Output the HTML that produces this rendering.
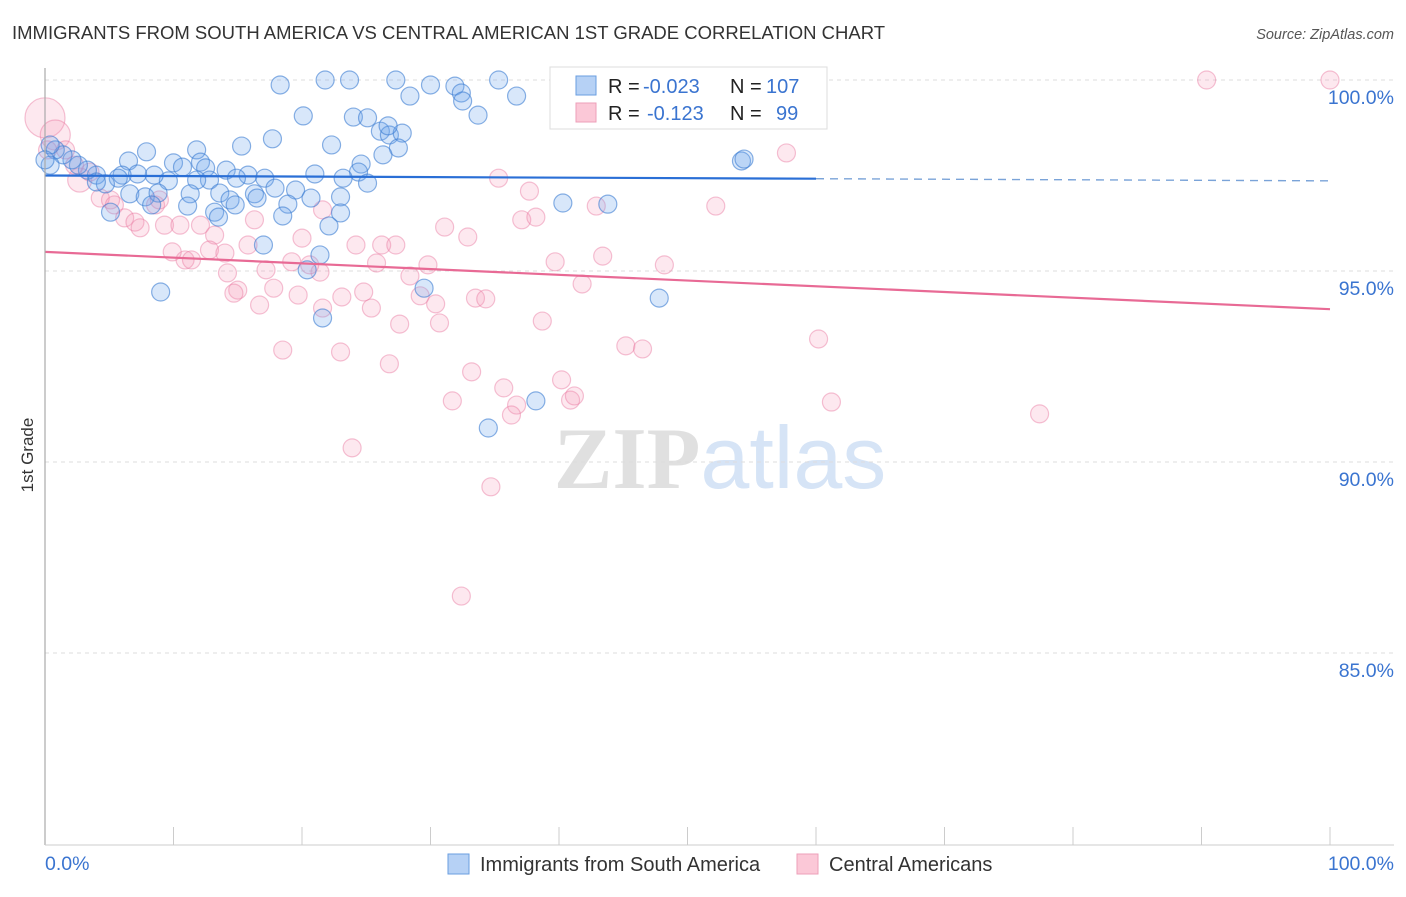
<!DOCTYPE html>
<html><head><meta charset="utf-8"><style>
body{margin:0;background:#fff;font-family:"Liberation Sans",sans-serif}
</style></head><body>
<svg width="1406" height="892" xmlns="http://www.w3.org/2000/svg" id="svg" style="font-family:'Liberation Sans',sans-serif">
<text x="12" y="39" font-size="18.5" fill="#333">IMMIGRANTS FROM SOUTH AMERICA VS CENTRAL AMERICAN 1ST GRADE CORRELATION CHART</text>
<text x="1394" y="39" font-size="14.5" fill="#555" font-style="italic" text-anchor="end">Source: ZipAtlas.com</text>
<text x="720" y="488" font-size="88" text-anchor="middle" font-family="Liberation Serif" font-weight="bold"><tspan fill="#e0e0e0">ZIP</tspan><tspan fill="#d6e4f6" font-family="Liberation Sans" font-weight="normal">atlas</tspan></text>
<g id="grid"></g><g id="marks"></g>
<line x1="45" y1="68" x2="45" y2="845" stroke="#aaa" stroke-width="1.2"/>
<line x1="45" y1="845" x2="1394" y2="845" stroke="#ccc"/>
<text transform="translate(33,455) rotate(-90)" font-size="17" fill="#333" text-anchor="middle">1st Grade</text>
<text x="45" y="870" font-size="19.5" fill="#3a74d0">0.0%</text>
<text x="1394" y="870" font-size="19.5" fill="#3a74d0" text-anchor="end">100.0%</text>
<g>
<rect x="550" y="67" width="277" height="62" fill="#fff" stroke="#ddd"/>
<rect x="576" y="76" width="20" height="19" fill="#b6d1f5" stroke="#6a9ee0"/>
<rect x="576" y="103" width="20" height="19" fill="#fbc8d7" stroke="#ee9fb8"/>
<text y="93" font-size="20" fill="#222"><tspan x="608">R =</tspan><tspan x="643" fill="#3a74d0">-0.023</tspan><tspan x="730">N =</tspan><tspan x="766" fill="#3a74d0">107</tspan></text>
<text y="120" font-size="20" fill="#222"><tspan x="608">R =</tspan><tspan x="647" fill="#3a74d0">-0.123</tspan><tspan x="730">N =</tspan><tspan x="776" fill="#3a74d0">99</tspan></text>
</g>
<g>
<rect x="448" y="854" width="21" height="20" fill="#b6d1f5" stroke="#6a9ee0"/>
<text x="480" y="871" font-size="20" fill="#333">Immigrants from South America</text>
<rect x="797" y="854" width="21" height="20" fill="#fbc8d7" stroke="#ee9fb8"/>
<text x="829" y="871" font-size="20" fill="#333">Central Americans</text>
</g>
</svg>
<script>
const yTicks=[100,95,90,85];
const yTickLabels=["100.0%","95.0%","90.0%","85.0%"];
const xTicks=[0,10,20,30,40,50,60,70,80,90,100];
const blueX=[18.3,21.8,23.7,27.3,30.0,31.9,35.3,28.4,32.4,32.5,36.7,20.1,24.0,25.1,33.7,17.7,22.3,26.1,26.8,27.8,26.7,27.5,26.3,15.3,7.9,11.8,6.5,10.0,12.1,14.1,12.5,10.7,24.6,24.4,21.0,23.2,25.1,15.8,17.1,14.9,12.8,11.8,9.6,8.5,7.2,6.0,5.7,4.0,4.7,3.3,2.6,2.1,1.4,0.8,0.4,4.0,6.6,7.8,8.8,11.3,13.6,16.3,17.9,19.5,20.7,23.0,16.5,14.4,18.9,14.8,8.3,11.1,13.2,13.5,5.1,18.5,23.0,22.1,17.0,9.0,20.4,21.4,29.5,21.6,40.3,43.8,54.2,54.4,47.8,38.2,34.5,0.4,0.0];
const blueY=[99.87,100,100,100,99.87,99.84,100,99.58,99.66,99.45,99.58,99.06,99.03,99.01,99.08,98.46,98.30,98.66,98.56,98.61,98.80,98.22,98.04,98.27,98.12,98.17,97.88,97.83,97.85,97.64,97.70,97.72,97.80,97.59,97.54,97.43,97.30,97.51,97.43,97.43,97.38,97.38,97.36,97.51,97.54,97.51,97.43,97.51,97.28,97.64,97.77,97.91,98.04,98.17,97.77,97.33,97.02,96.94,97.04,97.02,97.04,97.02,97.17,97.12,96.91,96.94,96.91,96.86,96.75,96.73,96.73,96.70,96.54,96.41,96.54,96.44,96.52,96.18,95.68,94.45,95.03,95.42,94.55,93.77,96.78,96.75,97.88,97.93,94.29,91.60,90.89,98.30,97.91];
const pinkX=[0,0.8,0.2,1.6,2.7,3.5,2.3,4.3,5.1,5.4,6.2,7.0,7.4,8.6,8.9,9.3,10.5,12.1,13.2,10.9,11.4,9.9,12.8,14.0,15.8,16.3,20.0,21.6,24.2,26.2,27.3,32.9,31.1,35.3,37.7,37.1,38.2,42.9,52.2,57.7,59.9,90.4,100,46.9,43.4,48.2,39.7,41.8,28.4,29.8,25.8,21.4,19.2,17.2,14.2,15.0,14.7,17.8,19.7,21.6,23.1,24.8,25.4,27.6,29.2,30.4,30.7,33.5,34.3,38.7,18.5,23.0,26.8,33.2,35.7,36.7,36.3,31.7,40.2,40.9,41.2,45.2,46.5,60.2,61.2,77.4,23.9,34.7,32.4,16.7,20.6];
const pinkY=[99.01,98.56,98.17,98.17,97.38,97.59,97.77,96.91,96.86,96.73,96.39,96.28,96.13,96.73,96.86,96.20,96.20,96.20,95.94,95.29,95.29,95.50,95.55,95.47,95.68,96.34,95.86,96.60,95.68,95.68,95.68,95.89,96.15,97.43,97.09,96.34,96.41,96.70,96.70,98.09,100,100,100,99.90,95.39,95.16,95.24,94.66,94.87,95.16,95.21,94.97,95.24,95.03,94.95,94.50,94.42,94.55,94.37,94.03,94.32,94.45,94.03,93.61,94.35,94.14,93.64,94.29,94.27,93.69,92.93,92.88,92.57,92.36,91.94,91.49,91.23,91.60,92.15,91.62,91.73,93.04,92.96,93.22,91.57,91.26,90.37,89.35,86.49,94.11,95.16];
const pinkBig=[20,15,0,0,12];
const blueTrend=[97.5,97.36];
const pinkTrend=[95.5,94.0];
const NS="http://www.w3.org/2000/svg";
const X=v=>45+v*12.85, Y=v=>80+(100-v)*38.2;
function mk(t,a,p){const e=document.createElementNS(NS,t);for(const k in a)e.setAttribute(k,a[k]);p.appendChild(e);return e;}
const grid=document.getElementById('grid'),marks=document.getElementById('marks');
yTicks.forEach((v,i)=>{
 const l=mk('line',{x1:45,x2:1394,y1:Y(v),y2:Y(v),stroke:'#ddd','stroke-dasharray':'4,4'},grid);
 
 
 const t=mk('text',{x:1394,y:Y(v)+24,'font-size':19.5,fill:'#3a74d0','text-anchor':'end'},grid);t.textContent=yTickLabels[i];
 
 
});
xTicks.forEach(v=>{
 const l=mk('line',{x1:X(v),x2:X(v),y1:827,y2:845,stroke:'#ccc'},grid);
 
 
});
pinkX.forEach((x,i)=>{
 const c=mk('circle',{cx:X(x),cy:Y(pinkY[i]),r:pinkBig[i]||9,fill:'rgba(244,150,180,0.22)',stroke:'rgba(232,120,160,0.45)','stroke-width':1.2},marks);
 
 
});
blueX.forEach((x,i)=>{
 const c=mk('circle',{cx:X(x),cy:Y(blueY[i]),r:9,fill:'rgba(110,165,235,0.27)',stroke:'rgba(60,125,210,0.6)','stroke-width':1.2},marks);
 
 
});
const bl=mk('line',{x1:X(0),y1:Y(blueTrend[0]),x2:X(60),y2:Y(blueTrend[0]+(blueTrend[1]-blueTrend[0])*0.6),stroke:'#2a6fd6','stroke-width':2.2},marks);


const bd=mk('line',{x1:X(60),y1:Y(blueTrend[0]+(blueTrend[1]-blueTrend[0])*0.6),x2:X(100),y2:Y(blueTrend[1]),stroke:'#7aa3d8','stroke-width':1.4,'stroke-dasharray':'8,6'},marks);


const pl=mk('line',{x1:X(0),y1:Y(pinkTrend[0]),x2:X(100),y2:Y(pinkTrend[1]),stroke:'#e86a95','stroke-width':2.2},marks);


</script>
</body></html>
